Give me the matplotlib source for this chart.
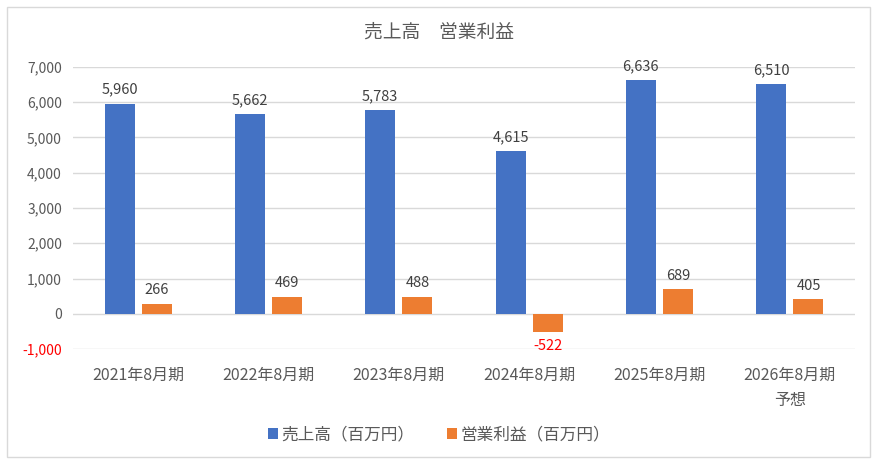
import numpy as np
import matplotlib.pyplot as plt
from matplotlib.patches import Rectangle

plt.rcParams['font.family'] = ['Noto Sans CJK JP', 'DejaVu Sans']

# Data
categories = ["2021年8月期", "2022年8月期", "2023年8月期", "2024年8月期", "2025年8月期", "2026年8月期\n予想"]
sales = [5960, 5662, 5783, 4615, 6636, 6510]
op_income = [266, 469, 488, -522, 689, 405]
yticks = [-1000, 0, 1000, 2000, 3000, 4000, 5000, 6000, 7000]

blue = "#4472c4"
orange = "#ed7d31"
txt = "#595959"
grid = "#d9d9d9"

fig = plt.figure(figsize=(8.78, 4.69), dpi=100)
# Outer chart border
fig.patches.append(Rectangle((7 / 878, 1 - 457 / 469), 863 / 878, 450 / 469,
                             transform=fig.transFigure, fill=False,
                             edgecolor=grid, linewidth=1))

ax = fig.add_axes([73 / 878, 1 - 349 / 469, 782 / 878, 282 / 469])

x = np.arange(len(categories))
w = 0.23
off = 0.143
b1 = ax.bar(x - off, sales, w, color=blue, label="売上高（百万円）", zorder=3)
b2 = ax.bar(x + off, op_income, w, color=orange, label="営業利益（百万円）", zorder=3)

ax.set_xlim(-0.5, len(categories) - 0.5)
ax.set_ylim(-1000, 7000)
ax.set_yticks(yticks)
ax.set_yticklabels([f"{v:,}" for v in yticks], color=txt, fontsize=10)
ax.get_yticklabels()[0].set_color("red")
ax.set_xticks(x)
ax.set_xticklabels(categories, color=txt, fontsize=11.5, linespacing=1.6, va="top")
ax.tick_params(length=0, pad=8)
ax.tick_params(axis="x", pad=13)
ax.grid(axis="y", color=grid, linewidth=1, zorder=0)
for s in ax.spines.values():
    s.set_visible(False)

# Data labels
for xi, v in zip(x - off, sales):
    ax.annotate(f"{v:,}", (xi, v), xytext=(0, 5), textcoords="offset points",
                ha="center", va="bottom", fontsize=10.5, color="#404040")
for xi, v in zip(x + off, op_income):
    if v >= 0:
        ax.annotate(f"{v:,}", (xi, v), xytext=(0, 5), textcoords="offset points",
                    ha="center", va="bottom", fontsize=10.5, color="#404040")
    else:
        ax.annotate(f"{v:,}", (xi, v), xytext=(0, -5), textcoords="offset points",
                    ha="center", va="top", fontsize=10.5, color="red")

fig.text(0.5, 1 - 32 / 469, "売上高　営業利益", ha="center", va="center",
         fontsize=13.5, color=txt)

fig.legend(handles=[b1, b2], loc="center", bbox_to_anchor=(0.5, 1 - 435 / 469),
           ncol=2, frameon=False, fontsize=12, labelcolor=txt,
           handlelength=0.6, handleheight=0.6, handletextpad=0.2, columnspacing=2.0)

fig.savefig("out.png", dpi=100)
